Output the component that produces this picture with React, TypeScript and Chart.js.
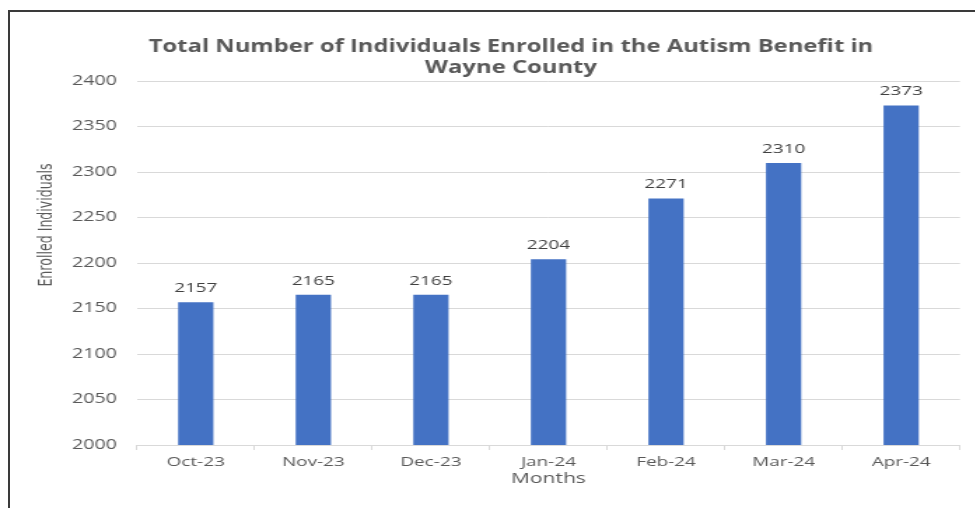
import React, { useEffect, useRef } from "react";
import { Chart, registerables } from "chart.js";

Chart.register(...registerables);

const categories = ["Oct-23", "Nov-23", "Dec-23", "Jan-24", "Feb-24", "Mar-24", "Apr-24"];
const enrolled = [2157, 2165, 2165, 2204, 2271, 2310, 2373];
const titleLines = ["Total Number of Individuals Enrolled in the Autism Benefit in", "Wayne County"];
const yAxisTitle = "Enrolled Individuals";
const xAxisTitle = "Months";
const yMin = 2000;
const yMax = 2400;
const yStep = 50;

const OUTER_W = 975;
const OUTER_H = 508;
const SX = 1.4;
const INNER_W = OUTER_W / SX;

const GRAY = "#595959";

const overlayPlugin = {
  id: "overlay",
  afterDraw(chart: any) {
    const ctx = chart.ctx;
    ctx.save();
    ctx.fillStyle = GRAY;
    ctx.textAlign = "center";
    ctx.textBaseline = "middle";
    ctx.font = 'bold 17px "Open Sans", sans-serif';
    ctx.fillText(titleLines[0], 511 / SX, 47);
    ctx.fillText(titleLines[1], 511 / SX, 68);

    ctx.save();
    ctx.translate(47 / SX, 225);
    ctx.rotate(-Math.PI / 2);
    ctx.font = '14px "Liberation Sans Narrow", "DejaVu Sans Condensed", sans-serif';
    ctx.fillText(yAxisTitle, 0, 0);
    ctx.restore();

    ctx.fillStyle = "#404040";
    ctx.font = '13.5px "Open Sans", sans-serif';
    const meta = chart.getDatasetMeta(0);
    meta.data.forEach((bar: any, i: number) => {
      ctx.fillText(String(enrolled[i]), bar.x, bar.y - 14);
    });
    ctx.restore();
  },
};

export default function App() {
  const ref = useRef<HTMLCanvasElement | null>(null);
  useEffect(() => {
    if (!ref.current) return;
    const chart = new Chart(ref.current, {
      type: "bar",
      data: {
        labels: categories,
        datasets: [
          {
            data: enrolled,
            backgroundColor: "#4472C4",
            barPercentage: 0.3,
            categoryPercentage: 1,
          },
        ],
      },
      options: {
        animation: false,
        responsive: true,
        maintainAspectRatio: false,
        layout: { padding: { left: 0, right: 15 / SX, top: 81, bottom: 0 } },
        plugins: { legend: { display: false }, tooltip: { enabled: false } },
        scales: {
          y: {
            min: yMin,
            max: yMax,
            afterFit(scale: any) {
              scale.width = 137 / SX;
            },
            ticks: {
              stepSize: yStep,
              color: GRAY,
              padding: 20 / SX,
              font: { family: '"Open Sans", sans-serif', size: 14 },
              callback: (v: any) => String(v),
            },
            grid: { color: "#d9d9d9", drawTicks: false },
            border: { display: false },
          },
          x: {
            afterFit(scale: any) {
              scale.height = OUTER_H - 445;
            },
            ticks: {
              color: GRAY,
              padding: 4,
              font: { family: '"Open Sans", sans-serif', size: 13.5 },
            },
            grid: { drawOnChartArea: false, drawTicks: true, tickLength: 5, color: "#d9d9d9" },
            border: { color: "#d9d9d9" },
            title: {
              display: true,
              text: xAxisTitle,
              color: GRAY,
              font: { family: '"Open Sans", sans-serif', size: 15 },
              padding: { top: 0, bottom: 20 },
            },
          },
        },
      },
      plugins: [overlayPlugin],
    });
    return () => chart.destroy();
  }, []);

  return (
    <div
      style={{
        position: "absolute",
        left: 0,
        top: 0,
        width: OUTER_W,
        height: OUTER_H,
        overflow: "hidden",
        background: "#fff",
      }}
    >
      <div
        style={{
          position: "absolute",
          left: 0,
          top: 0,
          width: INNER_W,
          height: OUTER_H,
          transform: `scaleX(${SX})`,
          transformOrigin: "0 0",
        }}
      >
        <canvas ref={ref} />
      </div>
      <div style={{ position: "absolute", left: 8, top: 10, width: 2, height: OUTER_H - 10, background: "#3a3a3a" }} />
      <div style={{ position: "absolute", left: 8, top: 10, width: OUTER_W - 8, height: 2, background: "#3a3a3a" }} />
    </div>
  );
}
